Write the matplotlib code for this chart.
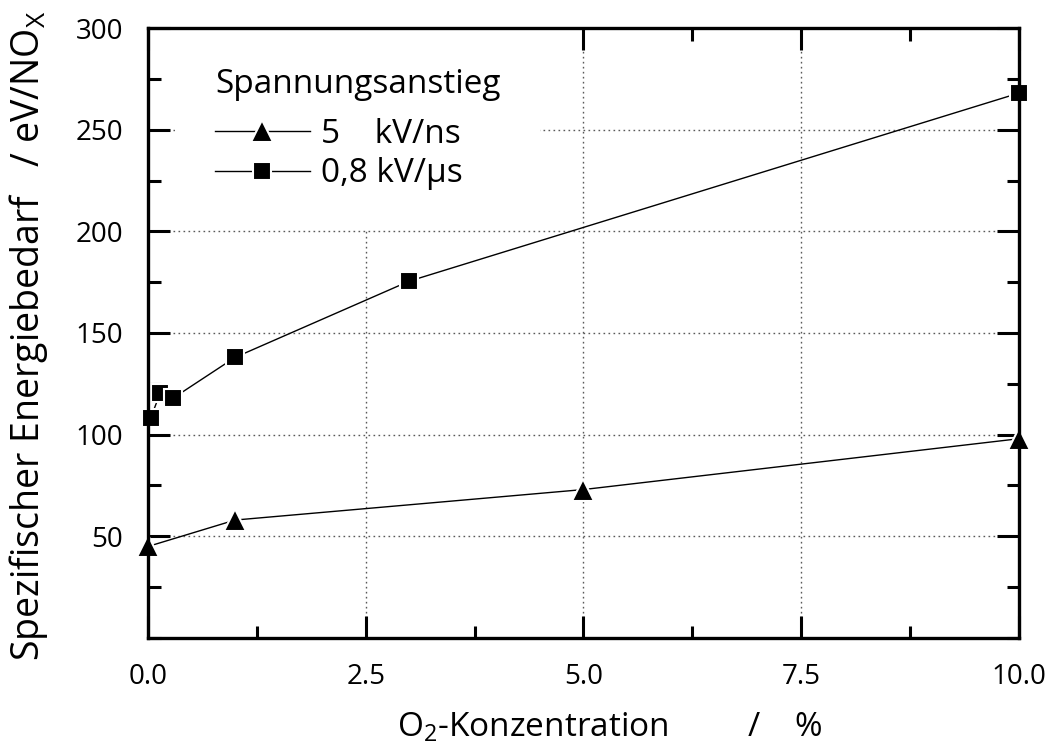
import matplotlib
matplotlib.use("Agg")
import matplotlib.pyplot as plt
from matplotlib.ticker import MultipleLocator, FormatStrFormatter

plt.rcParams['font.family'] = ['Open Sans', 'DejaVu Sans']
plt.rcParams['mathtext.fontset'] = 'custom'
plt.rcParams['mathtext.rm'] = 'Open Sans'
plt.rcParams['mathtext.it'] = 'Open Sans'

# O2 concentration (%) and specific energy demand (eV per NOx)
o2_fast = [0.0, 1.0, 5.0, 10.0]
energy_fast = [45, 58, 73, 98]
o2_slow = [0.03, 0.14, 0.29, 1.0, 3.0, 10.0]
energy_slow = [108, 120.5, 118, 138, 175.5, 268]

label_fast = "5    kV/ns"
label_slow = "0,8 kV/\u03bcs"
legend_title = "Spannungsanstieg"
xlabel = "O$_2$-Konzentration         /    %"
ylabel = "Spezifischer Energiebedarf   / eV/NO$_\\mathrm{X}$"

fig = plt.figure(figsize=(10.48, 7.51), dpi=100)
ax = fig.add_axes([0.1412, 0.1505, 0.8311, 0.8122])

line_kw = dict(color='black', lw=1.0, markerfacecolor='black',
               markeredgecolor='white', markeredgewidth=1.5, clip_on=False, zorder=2)
ax.plot(o2_fast, energy_fast, marker='^', markersize=16, label=label_fast, **line_kw)
ax.plot(o2_slow, energy_slow, marker='s', markersize=12.5, label=label_slow, **line_kw)

ax.set_xlim(0, 10)
ax.set_ylim(0, 300)
ax.xaxis.set_major_locator(MultipleLocator(2.5))
ax.xaxis.set_minor_locator(MultipleLocator(1.25))
ax.yaxis.set_major_locator(MultipleLocator(50))
ax.yaxis.set_minor_locator(MultipleLocator(25))
ax.xaxis.set_major_formatter(FormatStrFormatter('%.1f'))
ax.set_yticks([50, 100, 150, 200, 250, 300])

ax.grid(True, which='major', linestyle=(0, (1.2, 2.4)), linewidth=1.0, color='0.35')
ax.set_axisbelow(True)

for s in ax.spines.values():
    s.set_linewidth(2.4)
    s.set_zorder(3)

ax.tick_params(which='both', direction='in', top=True, right=True, width=2.2,
               labelsize=20)
ax.tick_params(which='major', length=16)
ax.tick_params(which='minor', length=9)
ax.tick_params(axis='y', pad=18)
ax.tick_params(axis='x', pad=18)

ax.set_xlabel(xlabel, fontsize=24)
ax.xaxis.set_label_coords(0.53, -0.12)
ax.set_ylabel(ylabel, fontsize=27)
ax.yaxis.set_label_coords(-0.113, 0.495)

leg = ax.legend(loc='upper left', bbox_to_anchor=(0.031, 1.0), title=legend_title,
                title_fontsize=24, fontsize=24, frameon=True, fancybox=False,
                edgecolor='none', facecolor='white', framealpha=1.0,
                handlelength=2.85, handletextpad=0.34, labelspacing=0.2,
                borderpad=1.2, borderaxespad=0, alignment='left')
leg._legend_box.sep = 12
leg.set_zorder(2.8)

fig.savefig('out.png', dpi=100, facecolor='white')
